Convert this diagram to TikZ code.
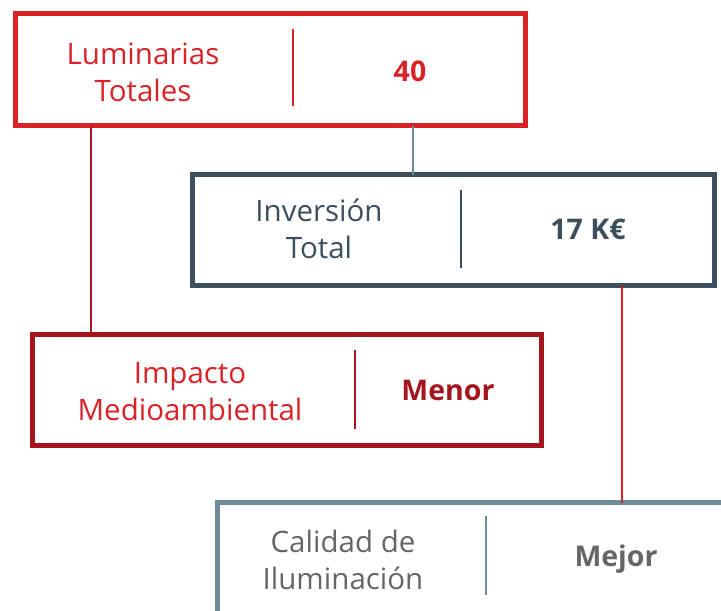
\documentclass[tikz,border=0pt]{standalone}
\usepackage{fontspec}
\setmainfont{Open Sans}
\definecolor{cred}{HTML}{DA2229}
\definecolor{cdark}{HTML}{A3161D}
\definecolor{cslate}{HTML}{3D4F5B}
\definecolor{cblue}{HTML}{6D8B99}
\definecolor{cgrey}{HTML}{666666}
\begin{document}
\begin{tikzpicture}[x=1pt,y=-1pt,
  box/.style={draw,line width=5pt,minimum width=#1,minimum height=111pt,inner sep=0pt,outer sep=0pt},
  lbl/.style={align=center,font=\fontsize{29.5}{37}\selectfont},
  val/.style={font=\fontsize{28.5}{37}\selectfont\bfseries},
  divider/.style={line width=1.5pt},
  conn/.style={line width=2.2pt}]
\useasboundingbox (0,0) rectangle (721,611);
\clip (0,0) rectangle (721,611);
% boxes
\node[box=510pt,minimum height=112pt,draw=cred] (b1) at (270.5,69.5) {};
\node[box=522pt,draw=cslate] (b2) at (453.5,230) {};
\node[box=509pt,draw=cdark] (b3) at (287,390) {};
\node[box=522pt,draw=cblue] (b4) at (478.5,558) {};
% dividers
\coordinate (d1) at (293,0);
\coordinate (d2) at (461,0);
\coordinate (d3) at (355,0);
\coordinate (d4) at (486,0);
\draw[divider,cred] ([yshift=-36pt]b1.center -| d1) -- ([yshift=41pt]b1.center -| d1);
\draw[divider,cslate] ([yshift=-38pt]b2.center -| d2) -- ([yshift=40pt]b2.center -| d2);
\draw[divider,cdark] ([yshift=-39pt]b3.center -| d3) -- ([yshift=40pt]b3.center -| d3);
\draw[divider,cblue] ([yshift=-37pt]b4.center -| d4) -- ([yshift=42pt]b4.center -| d4);
% texts
\node[lbl,text=cred] (t1) at (143,72) {Luminarias\\Totales};
\node[val,text=cred] (v1) at (410,71) {40};
\node[lbl,text=cslate] (t2) at (319,229) {Inversión\\Total};
\node[val,text=cslate] (v2) at (588,229) {17 K€};
\node[lbl,text=cred] (t3) at (190,392) {Impacto\\Medioambiental};
\node[val,text=cdark] (v3) at (448,390) {Menor};
\node[lbl,text=cgrey] (t4) at (343,560) {Calidad de\\Iluminación};
\node[val,text=cgrey] (v4) at (616,559) {Mejor};
% connectors
\coordinate (c1) at (91,0);
\coordinate (c2) at (413,0);
\coordinate (c3) at (622,0);
\draw[conn,cdark] (b1.south -| c1) -- (b3.north -| c1);
\draw[conn,cblue] (b1.south -| c2) -- (b2.north -| c2);
\draw[conn,cred] (b2.south -| c3) -- (b4.north -| c3);
\end{tikzpicture}
\end{document}
